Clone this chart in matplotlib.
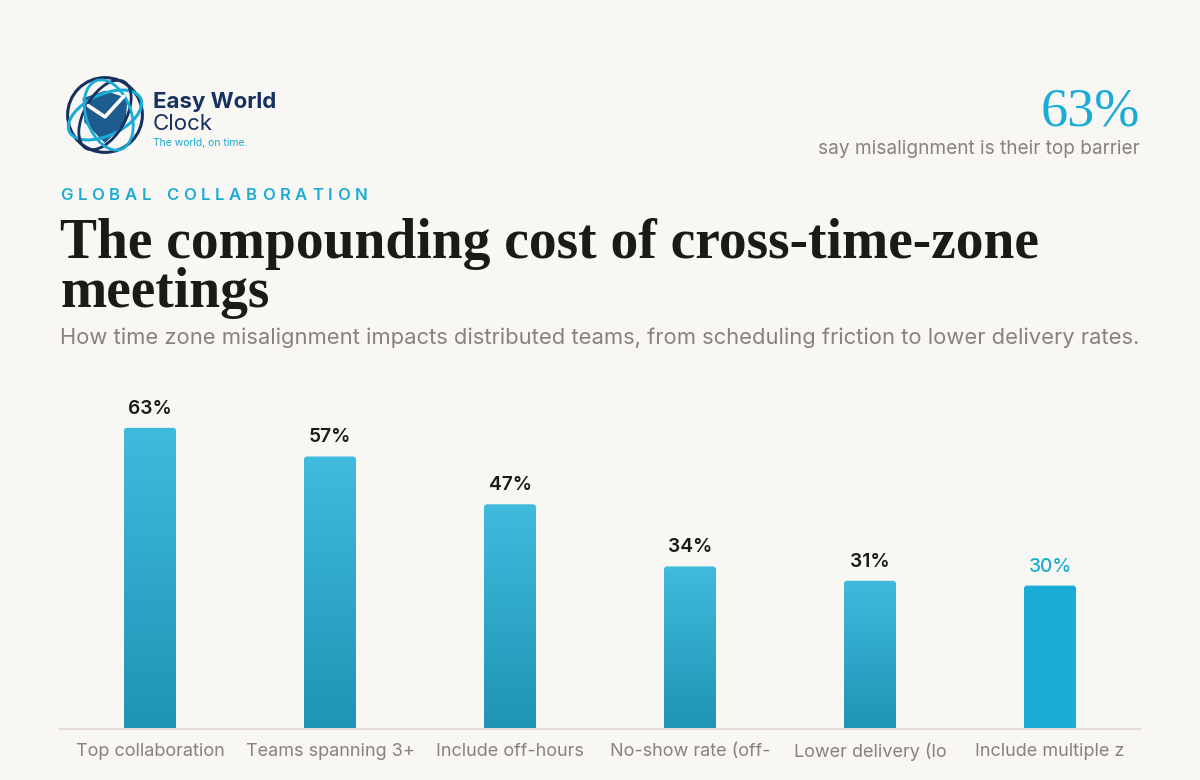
import matplotlib.pyplot as plt
import numpy as np
from matplotlib.patches import FancyBboxPatch, Ellipse, Polygon
from matplotlib.colors import LinearSegmentedColormap

# data
categories = ["Top collaboration", "Teams spanning 3+", "Include off-hours",
              "No-show rate (off-", "Lower delivery (lo", "Include multiple z"]
values = [63, 57, 47, 34, 31, 30]
value_labels = ["63%", "57%", "47%", "34%", "31%", "30%"]
highlight = 5  # last bar drawn solid / cyan

BG = "#F8F7F4"
CYAN = "#1AACD6"
NAVY = "#16315F"
GRAY = "#8A817A"
DARK = "#1C1A17"

W, H = 1200, 780
fig = plt.figure(figsize=(12, 7.8), dpi=100, facecolor=BG)


def fx(x):
    return x / W


def fy(y):
    return 1 - y / H


# ---- header texts
fig.text(fx(153), fy(108), "Easy World", fontfamily="Inter", fontweight="bold",
         fontsize=16, color=NAVY, va="baseline")
fig.text(fx(153), fy(130), "Clock", fontfamily="Inter", fontsize=16,
         color=NAVY, va="baseline")
fig.text(fx(153), fy(146), "The world, on time.", fontfamily="Inter",
         fontsize=7.5, color=CYAN, va="baseline")

fig.text(fx(1140), fy(125), "63%", fontfamily="Liberation Serif", fontsize=39,
         color=CYAN, ha="right", va="baseline")
fig.text(fx(1140), fy(154), "say misalignment is their top barrier",
         fontfamily="Inter", fontsize=13.7, color=GRAY, ha="right", va="baseline")

# tracked kicker text, one char at a time
renderer = fig.canvas.get_renderer()
kx = 60
for ch in "GLOBAL COLLABORATION":
    t = fig.text(fx(kx), fy(200), ch, fontfamily="Inter", fontweight="semibold",
                 fontsize=12, color=CYAN, va="baseline")
    w = t.get_window_extent(renderer).width if ch != " " else 5
    kx += w + 4.8

fig.text(fx(60), fy(258), "The compounding cost of cross-time-zone",
         fontfamily="Liberation Serif", fontweight="bold", fontsize=40,
         color=DARK, va="baseline")
fig.text(fx(60), fy(307), "meetings", fontfamily="Liberation Serif",
         fontweight="bold", fontsize=40, color=DARK, va="baseline")
fig.text(fx(60), fy(344),
         "How time zone misalignment impacts distributed teams, from scheduling friction to lower delivery rates.",
         fontfamily="Inter", fontsize=15.8, color=GRAY, va="baseline")

# ---- logo
lax = fig.add_axes([fx(62), fy(158), 86 / W, 86 / H])
lax.set_xlim(-1.15, 1.15)
lax.set_ylim(-1.15, 1.15)
lax.set_aspect("equal")
lax.axis("off")
shield = Polygon([(-0.6, 0.45), (0.0, 0.65), (0.6, 0.45), (0.55, -0.2),
                  (0.0, -0.75), (-0.55, -0.2)], closed=True, fc="#1F5C8E", ec="none")
lax.add_patch(shield)
lax.add_patch(Ellipse((0, 0), 2.0, 2.0, fill=False, ec=NAVY, lw=2.2))
lax.add_patch(Ellipse((0, 0), 2.1, 1.1, angle=25, fill=False, ec=CYAN, lw=2.2))
lax.add_patch(Ellipse((0, 0), 1.1, 2.05, angle=-30, fill=False, ec=NAVY, lw=2.0))
lax.add_patch(Ellipse((0.1, 0), 1.2, 1.95, angle=20, fill=False, ec=CYAN, lw=2.0))
lax.plot([-0.45, 0.0, 0.5], [0.25, -0.05, 0.5], color="white", lw=2.6,
         solid_capstyle="round")

# ---- bar chart
ax = fig.add_axes([fx(60), fy(729), 1080 / W, 349 / H])
ax.set_facecolor(BG)
x = np.arange(len(categories))
ax.set_xlim(-0.5, len(categories) - 0.5)
ax.set_ylim(0, 73)
bar_w = 52 / 180

cmap = LinearSegmentedColormap.from_list("bar", ["#1F94B4", "#40BADD"])
grad = np.linspace(0, 1, 256).reshape(-1, 1)
# data units per pixel, to keep rounded corners circular
aspect = (73 / 349) / (1 / 180)

for i, v in enumerate(values):
    x0 = x[i] - bar_w / 2
    patch = FancyBboxPatch((x0, -2), bar_w, v + 2,
                           boxstyle="round,pad=0,rounding_size=0.018",
                           mutation_aspect=aspect, ec="none",
                           fc=CYAN if i == highlight else "none")
    ax.add_patch(patch)
    if i != highlight:
        im = ax.imshow(grad, extent=[x0, x0 + bar_w, 0, v], origin="lower",
                       cmap=cmap, aspect="auto", zorder=2)
        im.set_clip_path(patch)
    if i == highlight:
        ax.text(x[i], v + 14 / 4.78, value_labels[i], ha="center", va="baseline",
                fontfamily="Inter", fontweight="medium", fontsize=13.8, color=CYAN)
    else:
        ax.text(x[i], v + 14 / 4.78, value_labels[i], ha="center", va="baseline",
                fontfamily="Inter", fontweight="semibold", fontsize=13.8, color=DARK)

ax.set_xlim(-0.5, len(categories) - 0.5)
ax.set_ylim(0, 73)
ax.set_aspect("auto")
for s in ["top", "right", "left"]:
    ax.spines[s].set_visible(False)
ax.spines["bottom"].set_color("#E6DED6")
ax.spines["bottom"].set_linewidth(1.5)
ax.set_yticks([])
ax.set_xticks(x)
ax.set_xticklabels(categories, fontfamily="Inter", fontsize=13, color=GRAY)
ax.tick_params(axis="x", length=0, pad=10)

fig.savefig("out.png", dpi=100, facecolor=BG)
